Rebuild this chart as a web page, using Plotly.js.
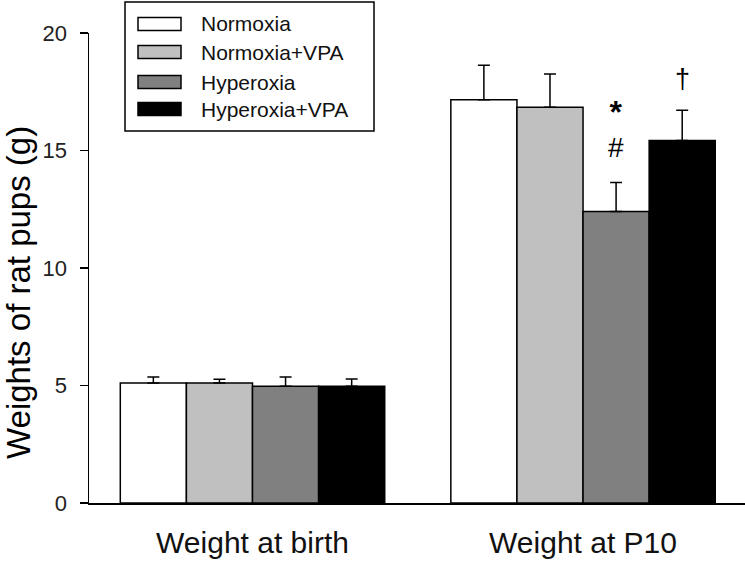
<!DOCTYPE html>
<html>
<head>
<meta charset="utf-8">
<script src="https://cdn.plot.ly/plotly-3.0.1.min.js"></script>
<style>html,body{margin:0;padding:0;background:#fff;}#chart{width:745px;height:565px;}</style>
</head>
<body>
<div id="chart"></div>
<script>
// ---- data ----
var categories = ["Weight at birth", "Weight at P10"];
var seriesNames = ["Normoxia", "Normoxia+VPA", "Hyperoxia", "Hyperoxia+VPA"];
var normoxia = [5.11, 17.16];
var normoxiaVPA = [5.11, 16.84];
var hyperoxia = [4.97, 12.40];
var hyperoxiaVPA = [4.97, 15.43];
// upper error (SD) values
var normoxiaErr = [0.25, 1.47];
var normoxiaVPAErr = [0.16, 1.42];
var hyperoxiaErr = [0.39, 1.24];
var hyperoxiaVPAErr = [0.31, 1.28];
var yTicks = [0, 5, 10, 15, 20];
var sigMarks = [ // [series index, category index, label]
  [2, 1, "<span style='font-size:32px'><b>*</b></span><br><span style='font-size:28px'>#</span>"],
  [3, 1, "\u2020"]
];

var values = [normoxia, normoxiaVPA, hyperoxia, hyperoxiaVPA];
var errs = [normoxiaErr, normoxiaVPAErr, hyperoxiaErr, hyperoxiaVPAErr];
var colors = ["#ffffff", "#c0c0c0", "#808080", "#000000"];

var FONT = "Liberation Sans, Arial, sans-serif";
var L = 89, R = 0, T = 33, B = 62, W = 745, H = 565;
var pw = W - L - R, ph = H - T - B;
function px(x) { return (x - L) / pw; }
function py(y) { return (H - B - y) / ph; }

var traces = seriesNames.map(function (name, i) {
  return {
    type: "bar",
    name: name,
    x: categories,
    y: values[i],
    marker: {color: colors[i], line: {color: "#000", width: 1.5}},
    error_y: {
      type: "data", symmetric: false,
      array: errs[i],
      arrayminus: errs[i].map(function () { return 0; }),
      color: "#000", thickness: 1.5, width: 6
    },
    showlegend: false,
    hoverinfo: "skip"
  };
});

// significance marks sit just above each error bar
var annotations = sigMarks.map(function (m) {
  var s = m[0], c = m[1];
  var xpos = c + (-0.3 + 0.2 * s);
  var top = values[s][c] + errs[s][c];
  return {
    xref: "x", yref: "y", x: xpos, y: top,
    text: m[2], showarrow: false,
    font: {family: FONT, size: s === 2 ? 26 : 27, color: "#000"},
    xanchor: "center", yanchor: "bottom",
    yshift: s === 2 ? 17 : 14
  };
});

// y axis title
annotations.push({
  xref: "paper", yref: "paper", x: px(18), y: py(293),
  text: "Weights of rat pups (g)", showarrow: false, textangle: -90,
  font: {family: FONT, size: 33, color: "#000"},
  xanchor: "center", yanchor: "middle"
});

// manual legend
var shapes = [{
  type: "rect", xref: "paper", yref: "paper",
  x0: px(125), x1: px(374), y0: py(2), y1: py(131),
  line: {color: "#000", width: 1.5}, fillcolor: "rgba(0,0,0,0)"
}];
var rowY = [24, 52, 82, 109];
seriesNames.forEach(function (name, i) {
  shapes.push({
    type: "rect", xref: "paper", yref: "paper",
    x0: px(138), x1: px(181), y0: py(rowY[i] - 6.5), y1: py(rowY[i] + 6.5),
    line: {color: "#000", width: 1.5}, fillcolor: colors[i]
  });
  annotations.push({
    xref: "paper", yref: "paper", x: px(199), y: py(rowY[i]),
    text: name, showarrow: false, xanchor: "left", yanchor: "middle",
    font: {family: FONT, size: 21, color: "#111"}
  });
});

var layout = {
  width: W, height: H,
  margin: {l: L, r: R, t: T, b: B, pad: 0},
  paper_bgcolor: "#fff", plot_bgcolor: "#fff",
  barmode: "group", bargap: 0.2, bargroupgap: 0,
  showlegend: false,
  font: {family: FONT, color: "#000"},
  xaxis: {
    type: "category", range: [-0.4947, 1.490],
    showline: true, linecolor: "#000", linewidth: 1.5,
    ticks: "", showgrid: false, zeroline: false,
    tickfont: {family: FONT, size: 30, color: "#111"},
    ticklabelstandoff: 12
  },
  yaxis: {
    range: [0, 20], tickvals: yTicks, ticktext: yTicks.map(String),
    showline: true, linecolor: "#000", linewidth: 1.5,
    ticks: "outside", ticklen: 8, tickwidth: 1.5, tickcolor: "#000",
    showgrid: false, zeroline: false,
    tickfont: {family: FONT, size: 22, color: "#222"},
    ticklabelstandoff: 8
  },
  annotations: annotations,
  shapes: shapes
};

Plotly.newPlot("chart", traces, layout, {displayModeBar: false, staticPlot: true});
</script>
</body>
</html>
